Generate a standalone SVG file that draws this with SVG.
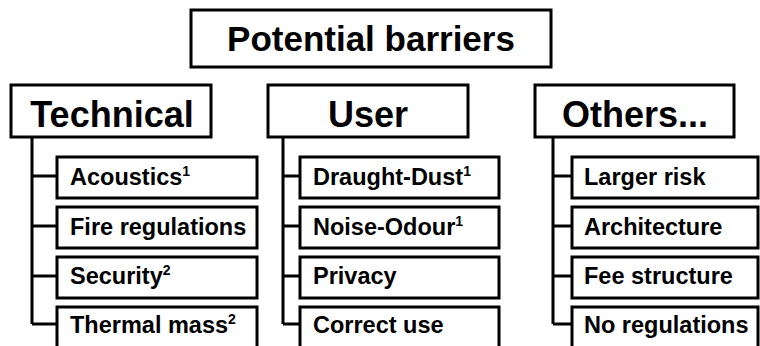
<svg xmlns="http://www.w3.org/2000/svg" width="760" height="346" viewBox="0 0 760 346">
<style>
.box{fill:#fff;stroke:#000;stroke-width:3}
.title{font-family:"Liberation Sans",Arial,sans-serif;font-weight:bold;font-size:35px;fill:#000;text-anchor:middle}
.cat{font-family:"Liberation Sans",Arial,sans-serif;font-weight:bold;font-size:36px;fill:#000;text-anchor:middle}
.item{font-family:"Liberation Sans",Arial,sans-serif;font-weight:bold;font-size:23.5px;fill:#000}
.sup{font-size:14px}
.conn{fill:none;stroke:#000;stroke-width:3}
</style>
<rect width="760" height="346" fill="#fff"/>
<g id="connectors">
<path class="conn" d="M32,137 V324 M32,176 H57 M32,226 H57 M32,276 H57 M32,324 H57"/>
<path class="conn" d="M283,137 V324 M283,176 H300 M283,226 H300 M283,276 H300 M283,324 H300"/>
<path class="conn" d="M553,137 V324 M553,176 H572 M553,226 H572 M553,276 H572 M553,324 H572"/>
</g>
<g id="title"><rect class="box" x="191" y="10" width="360" height="57" stroke-width="4"/><text class="title" x="371" y="51">Potential barriers</text></g>
<g id="technical"><rect class="box" x="11" y="85" width="200" height="52"/><text class="cat" x="112" y="127">Technical</text></g>
<g id="user"><rect class="box" x="268" y="85" width="200" height="52"/><text class="cat" x="368" y="127">User</text></g>
<g id="others"><rect class="box" x="535" y="85" width="199" height="52"/><text class="cat" x="635" y="127">Others...</text></g>

<g id="acoustics"><rect class="box" x="57" y="157" width="200" height="41"/><text class="item" x="70" y="185">Acoustics<tspan class="sup" dy="-9">1</tspan></text></g>
<g id="fire"><rect class="box" x="57" y="207" width="200" height="41"/><text class="item" x="70" y="235">Fire regulations</text></g>
<g id="security"><rect class="box" x="57" y="257" width="200" height="41"/><text class="item" x="70" y="284">Security<tspan class="sup" dy="-9">2</tspan></text></g>
<g id="thermal"><rect class="box" x="57" y="307" width="200" height="45"/><text class="item" x="70" y="333">Thermal mass<tspan class="sup" dy="-9">2</tspan></text></g>

<g id="draught"><rect class="box" x="300" y="157" width="199" height="41"/><text class="item" x="313" y="185">Draught-Dust<tspan class="sup" dy="-9">1</tspan></text></g>
<g id="noise"><rect class="box" x="300" y="207" width="199" height="41"/><text class="item" x="313" y="235">Noise-Odour<tspan class="sup" dy="-9">1</tspan></text></g>
<g id="privacy"><rect class="box" x="300" y="257" width="199" height="41"/><text class="item" x="313" y="284">Privacy</text></g>
<g id="correct"><rect class="box" x="300" y="307" width="199" height="45"/><text class="item" x="313" y="333">Correct use</text></g>

<g id="risk"><rect class="box" x="572" y="157" width="186" height="41"/><text class="item" x="584" y="185">Larger risk</text></g>
<g id="architecture"><rect class="box" x="572" y="207" width="186" height="41"/><text class="item" x="584" y="235">Architecture</text></g>
<g id="fee"><rect class="box" x="572" y="257" width="186" height="41"/><text class="item" x="584" y="284">Fee structure</text></g>
<g id="noreg"><rect class="box" x="572" y="307" width="186" height="45"/><text class="item" x="584" y="333">No regulations</text></g>
</svg>
